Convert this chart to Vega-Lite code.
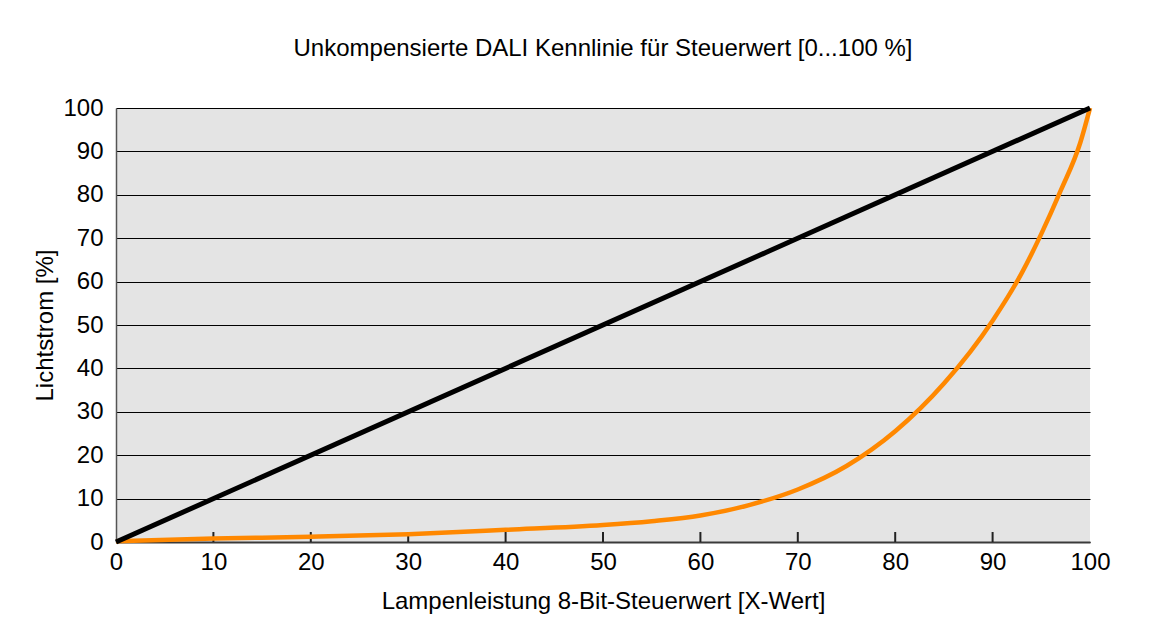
{
  "$schema": "https://vega.github.io/schema/vega-lite/v6.json",
  "width": 974,
  "height": 434,
  "autosize": {"type": "none"},
  "padding": {"left": 116, "top": 108, "right": 61, "bottom": 87},
  "background": "white",
  "title": {"text": "Unkompensierte DALI Kennlinie für Steuerwert [0...100 %]", "font": "Liberation Sans", "fontSize": 24, "fontWeight": "normal", "color": "black", "offset": 35, "anchor": "middle"},
  "config": {
    "view": {"fill": "#e4e4e4", "stroke": null},
    "font": "Liberation Sans"
  },
  "datasets": {
    "linear": [{"x": 0, "y": 0}, {"x": 100, "y": 100}],
    "ticks": [{"x": 10}, {"x": 20}, {"x": 30}, {"x": 40}, {"x": 50}, {"x": 60}, {"x": 70}, {"x": 80}, {"x": 90}],
    "dali": [
      {"x": 0, "y": 0.2}, {"x": 10, "y": 0.8}, {"x": 20, "y": 1.2}, {"x": 30, "y": 1.8},
      {"x": 40, "y": 2.8}, {"x": 50, "y": 3.9}, {"x": 55, "y": 4.8}, {"x": 60, "y": 6.1},
      {"x": 65, "y": 8.5}, {"x": 70, "y": 12.1}, {"x": 75, "y": 17.5}, {"x": 80, "y": 25.5},
      {"x": 85, "y": 36.5}, {"x": 90, "y": 51}, {"x": 93, "y": 62}, {"x": 95, "y": 71},
      {"x": 97, "y": 81}, {"x": 99, "y": 92}, {"x": 100, "y": 100}
    ]
  },
  "layer": [
    {
      "data": {"name": "ticks"},
      "mark": {"type": "rule", "color": "#222222", "strokeWidth": 2},
      "encoding": {
        "x": {"field": "x", "type": "quantitative", "scale": {"domain": [0, 100], "nice": false},
          "axis": {"title": "Lampenleistung 8-Bit-Steuerwert [X-Wert]", "titleFontSize": 24, "titleFontWeight": "normal", "titleColor": "black", "titlePadding": 15,
            "values": [0, 10, 20, 30, 40, 50, 60, 70, 80, 90, 100], "labelFontSize": 24, "labelColor": "black", "labelPadding": 8,
            "grid": false, "domainColor": "#3a3a3a", "domainWidth": 2, "ticks": false, "labelFlush": false}},
        "y": {"datum": 0, "type": "quantitative", "scale": {"domain": [0, 100], "nice": false},
          "axis": {"title": "Lichtstrom [%]", "titleFontSize": 24, "titleFontWeight": "normal", "titleColor": "black", "titlePadding": 5,
            "values": [0, 10, 20, 30, 40, 50, 60, 70, 80, 90, 100], "labelFontSize": 24, "labelColor": "black", "labelPadding": 13,
            "ticks": false, "grid": true, "gridColor": "black", "gridWidth": 1.2, "gridOpacity": 1,
            "domainColor": "#555555", "domainWidth": 1.5}},
        "y2": {"datum": 2.3}
      }
    },
    {
      "data": {"name": "dali"},
      "mark": {"type": "line", "color": "#ff8800", "strokeWidth": 4.5, "interpolate": "monotone"},
      "encoding": {
        "x": {"field": "x", "type": "quantitative"},
        "y": {"field": "y", "type": "quantitative"}
      }
    },
    {
      "data": {"name": "linear"},
      "mark": {"type": "line", "color": "black", "strokeWidth": 5},
      "encoding": {
        "x": {"field": "x", "type": "quantitative"},
        "y": {"field": "y", "type": "quantitative"}
      }
    }
  ]
}
